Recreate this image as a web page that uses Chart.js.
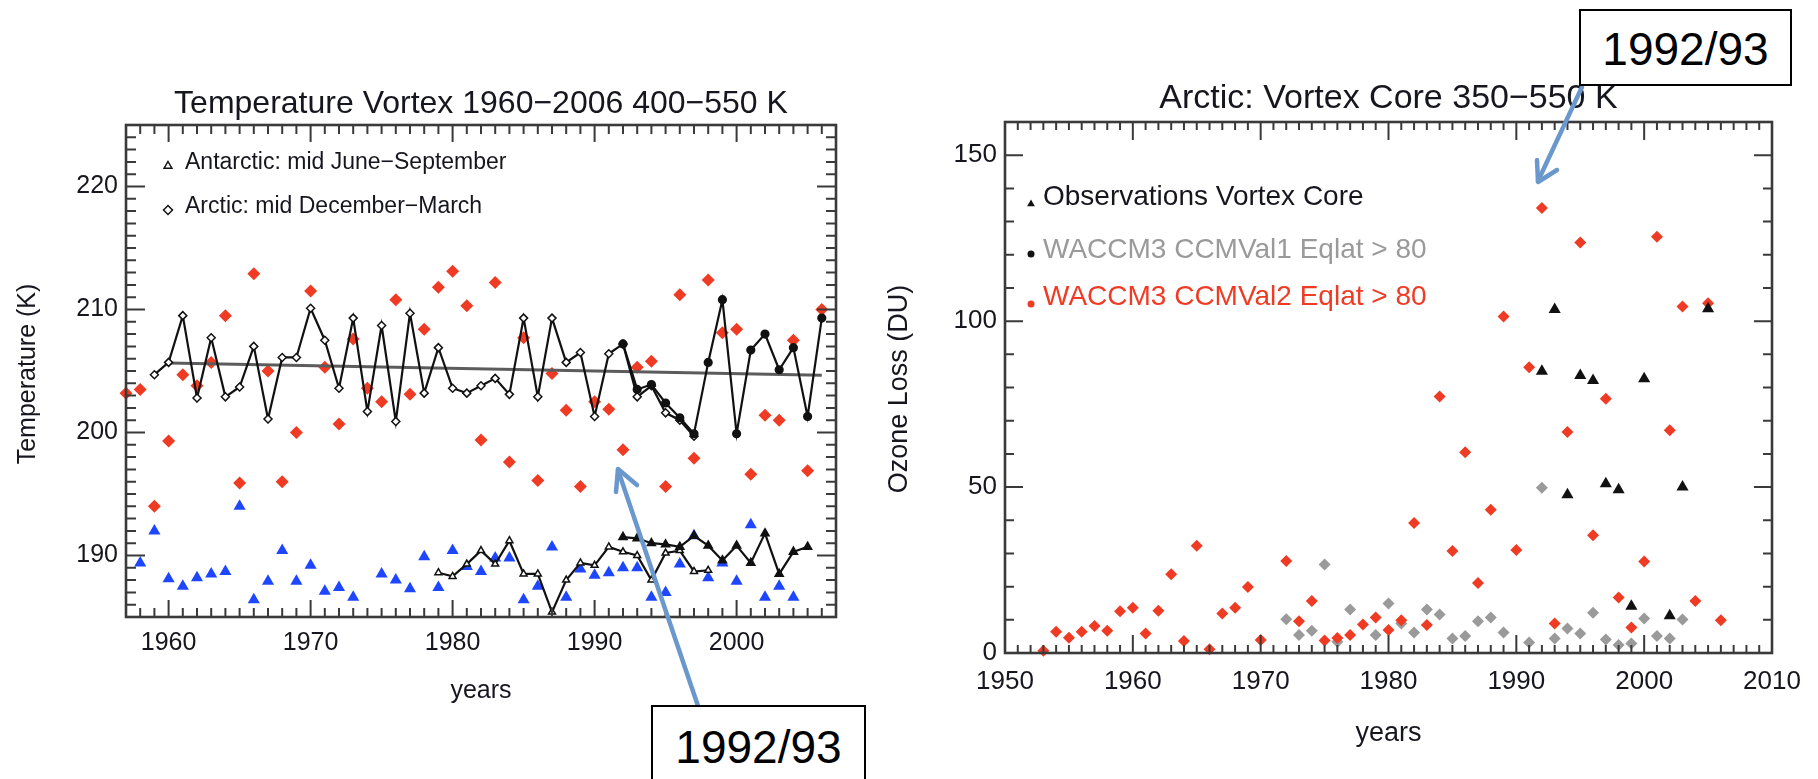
<!DOCTYPE html>
<html lang="en">
<head>
<meta charset="utf-8">
<title>Vortex temperature and Arctic ozone loss</title>
<script src="https://cdn.jsdelivr.net/npm/chart.js@4.4.1/dist/chart.umd.min.js"></script>
<style>
  html, body { margin: 0; padding: 0; background: #fff; }
  body { position: relative; width: 1818px; height: 779px; overflow: hidden; }
  canvas { position: absolute; top: 0; }
  #tempChart { left: 0; }
  #ozoneChart { left: 880px; }
  #arrows { position: absolute; left: 0; top: 0; }
  .callout {
    position: absolute; box-sizing: border-box; border: 2px solid #000; background: #fff;
    font-family: 'Liberation Sans', Arial, sans-serif; font-size: 46px; line-height: 1;
    text-align: center; color: #000;
  }
</style>
</head>
<body>
<canvas id="tempChart" width="880" height="779"></canvas>
<canvas id="ozoneChart" width="938" height="779"></canvas>
<svg id="arrows" width="1818" height="779">
  <g stroke="#6a98cd" stroke-width="4.5" fill="none" stroke-linecap="round" stroke-linejoin="round">
    <line x1="698" y1="706" x2="618" y2="470"/>
    <polyline points="616,492 618,469 637,485"/>
    <line x1="1582" y1="87" x2="1538" y2="181"/>
    <polyline points="1537,160 1538,182 1557,170"/>
  </g>
</svg>
<div class="callout" style="left:651px;top:705px;width:215px;height:90px;padding-top:17px;">1992/93</div>
<div class="callout" style="left:1579px;top:9px;width:213px;height:77px;padding-top:15px;">1992/93</div>

<script>
// ---- left panel: vortex temperatures (K) ----
const tempXTicks = [1960, 1970, 1980, 1990, 2000];
const tempYTicks = [190, 200, 210, 220];

const redYears = [1957, 1958, 1959, 1960, 1961, 1962, 1963, 1964, 1965, 1966,
  1967, 1968, 1969, 1970, 1971, 1972, 1973, 1974, 1975, 1976,
  1977, 1978, 1979, 1980, 1981, 1982, 1983, 1984, 1985, 1986,
  1987, 1988, 1989, 1990, 1991, 1992, 1993, 1994, 1995, 1996,
  1997, 1998, 1999, 2000, 2001, 2002, 2003, 2004, 2005, 2006];
const redTemps = [203.2, 203.5, 194.0, 199.3, 204.7, 203.8, 205.7, 209.5, 195.9, 212.9,
  205.0, 196.0, 200.0, 211.5, 205.3, 200.7, 207.6, 203.6, 202.5, 210.8,
  203.1, 208.4, 211.8, 213.1, 210.3, 199.4, 212.2, 197.6, 207.7, 196.1,
  204.8, 201.8, 195.6, 202.5, 201.9, 198.6, 205.3, 205.8, 195.6, 211.2,
  197.9, 212.4, 208.1, 208.4, 196.6, 201.4, 201.0, 207.5, 196.9, 210.0];

const blueYears = [1958, 1959, 1960, 1961, 1962, 1963, 1964, 1965, 1966, 1967,
  1968, 1969, 1970, 1971, 1972, 1973, 1975, 1976, 1977, 1978,
  1979, 1980, 1981, 1982, 1983, 1984, 1985, 1986, 1987, 1988,
  1989, 1990, 1991, 1992, 1993, 1994, 1995, 1996, 1997, 1998,
  1999, 2000, 2001, 2002, 2003, 2004];
const blueTemps = [189.4, 192.0, 188.1, 187.5, 188.2, 188.5, 188.7, 194.0, 186.4, 187.9,
  190.4, 187.9, 189.2, 187.1, 187.4, 186.6, 188.5, 188.0, 187.3, 189.9,
  187.4, 190.4, 189.1, 188.7, 189.8, 189.8, 186.4, 187.5, 190.7, 186.6,
  188.9, 188.4, 188.6, 189.0, 189.0, 186.6, 187.0, 189.3, 191.6, 188.2,
  189.4, 187.9, 192.5, 186.6, 187.5, 186.6];

const arcticYears = [1959, 1960, 1961, 1962, 1963, 1964, 1965, 1966, 1967, 1968,
  1969, 1970, 1971, 1972, 1973, 1974, 1975, 1976, 1977, 1978,
  1979, 1980, 1981, 1982, 1983, 1984, 1985, 1986, 1987, 1988,
  1989, 1990, 1991, 1992, 1993, 1994, 1995, 1996, 1997];
const arcticTemps = [204.7, 205.7, 209.5, 202.8, 207.7, 202.9, 203.7, 207.0, 201.1, 206.1,
  206.1, 210.1, 207.5, 203.6, 209.3, 201.7, 208.7, 200.9, 209.7, 203.2,
  206.9, 203.6, 203.2, 203.8, 204.4, 203.1, 209.3, 202.9, 209.3, 205.7,
  206.5, 201.3, 206.4, 207.2, 202.9, 203.8, 201.6, 201.0, 199.7];

const arcticNewYears = [1992, 1993, 1994, 1995, 1996, 1997, 1998, 1999, 2000, 2001,
  2002, 2003, 2004, 2005, 2006];
const arcticNewTemps = [207.2, 203.5, 203.9, 202.4, 201.2, 199.9, 205.7, 210.8, 199.9, 206.7,
  208.0, 205.1, 206.9, 201.3, 209.3];

const antarcticYears = [1979, 1980, 1981, 1982, 1983, 1984, 1985, 1986, 1987, 1988,
  1989, 1990, 1991, 1992, 1993, 1994, 1995, 1996, 1997, 1998];
const antarcticTemps = [188.6, 188.3, 189.3, 190.4, 189.3, 191.2, 188.5, 188.5, 185.4, 188.0,
  189.4, 189.2, 190.7, 190.3, 190.0, 188.0, 190.2, 190.4, 188.7, 188.8];

const antarcticNewYears = [1992, 1993, 1994, 1995, 1996, 1997, 1998, 1999, 2000, 2001,
  2002, 2003, 2004, 2005];
const antarcticNewTemps = [191.5, 191.4, 191.0, 190.9, 190.7, 191.6, 190.8, 189.6, 190.8, 189.4,
  191.8, 188.5, 190.3, 190.7];

const trendYears = [1960, 2006];
const trendTemps = [205.65, 204.65];

// ---- right panel: Arctic vortex core ozone loss (DU) ----
const ozoneXTicks = [1950, 1960, 1970, 1980, 1990, 2000, 2010];
const ozoneYTicks = [0, 50, 100, 150];

const obsYears = [1992, 1993, 1994, 1995, 1996, 1997, 1998, 1999, 2000, 2002, 2003, 2005];
const obsLoss = [84.9, 103.5, 47.7, 83.6, 82.1, 51.0, 49.2, 14.1, 82.6, 11.2, 50.0, 103.7];

const ccmval1Years = [1972, 1973, 1974, 1975, 1976, 1977, 1979, 1980, 1981, 1982,
  1983, 1984, 1985, 1986, 1987, 1988, 1989, 1991, 1992, 1993,
  1994, 1995, 1996, 1997, 1998, 1999, 2000, 2001, 2002, 2003];
const ccmval1Loss = [10.2, 5.4, 6.7, 26.7, 3.4, 13.1, 5.4, 14.9, 8.9, 6.2,
  13.1, 11.6, 4.4, 5.1, 9.6, 10.7, 6.2, 3.2, 49.8, 4.4,
  7.4, 5.9, 12.1, 4.1, 2.4, 2.9, 10.4, 5.1, 4.4, 10.1];

const ccmval2Years = [1953, 1954, 1955, 1956, 1957, 1958, 1959, 1960, 1961, 1962,
  1963, 1964, 1965, 1966, 1967, 1968, 1969, 1970, 1972, 1973,
  1974, 1975, 1976, 1977, 1978, 1979, 1980, 1981, 1982, 1983,
  1984, 1985, 1986, 1987, 1988, 1989, 1990, 1991, 1992, 1993,
  1994, 1995, 1996, 1997, 1998, 1999, 2000, 2001, 2002, 2003,
  2004, 2005, 2006];
const ccmval2Loss = [0.7, 6.4, 4.6, 6.4, 8.1, 6.7, 12.6, 13.6, 5.9, 12.7,
  23.7, 3.6, 32.3, 1.1, 11.9, 13.6, 19.9, 3.9, 27.7, 9.6,
  15.7, 3.8, 4.5, 5.4, 8.6, 10.7, 6.9, 9.9, 39.2, 8.4,
  77.3, 30.7, 60.5, 21.1, 43.2, 101.4, 31.0, 86.1, 134.1, 8.9,
  66.6, 123.7, 35.5, 76.6, 16.7, 7.7, 27.6, 125.4, 67.1, 104.4,
  15.7, 105.4, 9.9];

const RED = '#f03b24';
const BLUE = '#1e46ff';
const GREY = '#9a9a9a';
const INK = '#16161e';
const FONT = "'Liberation Sans', Arial, Helvetica, sans-serif";

Chart.defaults.font.family = FONT;
Chart.defaults.color = INK;

const pts = (xs, ys) => xs.map((x, i) => ({ x: x, y: ys[i] }));

function marker(ctx, style, x, y, r, fill, stroke) {
  ctx.beginPath();
  if (style === 'triangle') {
    ctx.moveTo(x, y - r);
    ctx.lineTo(x + r * 0.866, y + r * 0.5);
    ctx.lineTo(x - r * 0.866, y + r * 0.5);
    ctx.closePath();
  } else if (style === 'rectRot') {
    ctx.moveTo(x, y - r);
    ctx.lineTo(x + r, y);
    ctx.lineTo(x, y + r);
    ctx.lineTo(x - r, y);
    ctx.closePath();
  } else {
    ctx.arc(x, y, r, 0, Math.PI * 2);
  }
  if (fill) { ctx.fillStyle = fill; ctx.fill(); }
  if (stroke) { ctx.strokeStyle = stroke; ctx.lineWidth = 1.5; ctx.stroke(); }
}

// IDL-style box: frame, inward ticks on all four sides, titles and legend
const boxFrame = {
  id: 'boxFrame',
  afterDatasetsDraw(chart, args, o) {
    const { ctx, chartArea: a, scales: { x, y } } = chart;
    ctx.save();
    ctx.strokeStyle = '#3a3a3a';
    ctx.lineWidth = 2;
    ctx.beginPath();
    for (let v = Math.ceil(x.min); v <= x.max; v += o.xStep) {
      const px = x.getPixelForValue(v);
      const len = o.xMajor.includes(v) ? o.xMajorLen : o.xMinorLen;
      ctx.moveTo(px, a.bottom); ctx.lineTo(px, a.bottom - len);
      ctx.moveTo(px, a.top); ctx.lineTo(px, a.top + len);
    }
    for (let v = Math.ceil(y.min / o.yStep) * o.yStep; v <= y.max; v += o.yStep) {
      const py = y.getPixelForValue(v);
      const len = o.yMajor.includes(v) ? o.yMajorLen : o.yMinorLen;
      ctx.moveTo(a.left, py); ctx.lineTo(a.left + len, py);
      ctx.moveTo(a.right, py); ctx.lineTo(a.right - len, py);
    }
    ctx.stroke();
    ctx.lineWidth = 2.6;
    ctx.strokeRect(a.left, a.top, a.right - a.left, a.bottom - a.top);
    ctx.restore();
  },
  afterDraw(chart, args, o) {
    const { ctx, chartArea: a } = chart;
    const cx = (a.left + a.right) / 2;
    ctx.save();
    ctx.fillStyle = INK;
    ctx.textAlign = 'center';
    ctx.textBaseline = 'alphabetic';
    ctx.font = o.titleSize + 'px ' + FONT;
    ctx.fillText(o.title, cx, o.titleBase);
    ctx.font = o.xTitleSize + 'px ' + FONT;
    ctx.fillText(o.xTitle, cx, o.xTitleBase);
    ctx.save();
    ctx.translate(o.yTitleX, o.yTitleY);
    ctx.rotate(-Math.PI / 2);
    ctx.textBaseline = 'middle';
    ctx.font = o.yTitleSize + 'px ' + FONT;
    ctx.fillText(o.yTitle, 0, 0);
    ctx.restore();
    ctx.textAlign = 'left';
    ctx.font = o.legendSize + 'px ' + FONT;
    o.legend.forEach(item => {
      marker(ctx, item.style, o.legendMarkX, item.markY, item.r, item.fill, item.stroke);
      ctx.fillStyle = item.color;
      ctx.fillText(item.label, o.legendTextX, item.base);
    });
    ctx.restore();
  }
};

function axis(min, max, ticks, opts) {
  return Object.assign({
    type: 'linear', min: min, max: max,
    grid: { display: false, drawTicks: false },
    border: { display: false },
    afterBuildTicks: s => { s.ticks = ticks.map(v => ({ value: v })); }
  }, opts);
}

new Chart(document.getElementById('tempChart'), {
  type: 'scatter',
  data: {
    datasets: [
      { type: 'line', data: pts(arcticNewYears, arcticNewTemps), borderColor: '#111', borderWidth: 2.2,
        pointStyle: 'circle', pointRadius: 3.5, pointBackgroundColor: '#111', pointBorderColor: '#111', tension: 0 },
      { type: 'line', data: pts(arcticYears, arcticTemps), borderColor: '#111', borderWidth: 2.2,
        pointStyle: 'rectRot', pointRadius: 4, pointBackgroundColor: '#fff', pointBorderColor: '#111', pointBorderWidth: 1.5, tension: 0 },
      { type: 'line', data: pts(antarcticNewYears, antarcticNewTemps), borderColor: '#111', borderWidth: 2.2,
        pointStyle: 'triangle', pointRadius: 4, pointBackgroundColor: '#111', pointBorderColor: '#111', tension: 0 },
      { type: 'line', data: pts(antarcticYears, antarcticTemps), borderColor: '#111', borderWidth: 2.2,
        pointStyle: 'triangle', pointRadius: 4, pointBackgroundColor: '#fff', pointBorderColor: '#111', pointBorderWidth: 1.5, tension: 0 },
      { type: 'line', data: pts(trendYears, trendTemps), borderColor: '#5c5c5c', borderWidth: 3, pointRadius: 0 },
      { data: pts(blueYears, blueTemps), pointStyle: 'triangle', pointRadius: 7,
        backgroundColor: BLUE, borderColor: BLUE, borderWidth: 0 },
      { data: pts(redYears, redTemps), pointStyle: 'rectRot', pointRadius: 6.5,
        backgroundColor: RED, borderColor: RED, borderWidth: 0, clip: false }
    ]
  },
  options: {
    responsive: false,
    animation: false,
    devicePixelRatio: 1,
    layout: { padding: { left: 0, top: 125, right: 44, bottom: 102 } },
    plugins: {
      legend: { display: false },
      tooltip: { enabled: false },
      boxFrame: {
        xMajor: tempXTicks, yMajor: tempYTicks, xStep: 1, yStep: 1,
        xMajorLen: 17, xMinorLen: 9, yMajorLen: 19, yMinorLen: 10,
        title: 'Temperature Vortex 1960\u22122006 400\u2212550 K', titleSize: 32, titleBase: 113,
        xTitle: 'years', xTitleSize: 25, xTitleBase: 698,
        yTitle: 'Temperature (K)', yTitleSize: 25, yTitleX: 28, yTitleY: 374,
        legendSize: 23, legendMarkX: 168, legendTextX: 185,
        legend: [
          { label: 'Antarctic: mid June\u2212September', style: 'triangle', r: 4.5, fill: '#fff', stroke: '#111', markY: 166, base: 169, color: INK },
          { label: 'Arctic: mid December\u2212March', style: 'rectRot', r: 4.5, fill: '#fff', stroke: '#111', markY: 210, base: 213, color: INK }
        ]
      }
    },
    scales: {
      x: axis(1957, 2007, tempXTicks, {
        afterFit: s => { s.height = 60; },
        ticks: { font: { size: 25 }, padding: 11, callback: v => String(v) }
      }),
      y: axis(185, 225, tempYTicks, {
        afterFit: s => { s.width = 126; },
        ticks: { font: { size: 25 }, padding: 8, callback: v => String(v) }
      })
    }
  },
  plugins: [boxFrame]
});

new Chart(document.getElementById('ozoneChart'), {
  type: 'scatter',
  data: {
    datasets: [
      { data: pts(obsYears, obsLoss), pointStyle: 'triangle', pointRadius: 7,
        backgroundColor: '#111', borderColor: '#111', borderWidth: 0 },
      { data: pts(ccmval2Years, ccmval2Loss), pointStyle: 'rectRot', pointRadius: 6,
        backgroundColor: RED, borderColor: RED, borderWidth: 0, clip: false },
      { data: pts(ccmval1Years, ccmval1Loss), pointStyle: 'rectRot', pointRadius: 6,
        backgroundColor: GREY, borderColor: GREY, borderWidth: 0 }
    ]
  },
  options: {
    responsive: false,
    animation: false,
    devicePixelRatio: 1,
    layout: { padding: { left: 0, top: 122, right: 46, bottom: 66 } },
    plugins: {
      legend: { display: false },
      tooltip: { enabled: false },
      boxFrame: {
        xMajor: ozoneXTicks, yMajor: ozoneYTicks, xStep: 1, yStep: 10,
        xMajorLen: 18, xMinorLen: 8, yMajorLen: 18, yMinorLen: 9,
        title: 'Arctic: Vortex Core 350\u2212550 K', titleSize: 34, titleBase: 108,
        xTitle: 'years', xTitleSize: 27, xTitleBase: 741,
        yTitle: 'Ozone Loss (DU)', yTitleSize: 27, yTitleX: 20, yTitleY: 389,
        legendSize: 28, legendMarkX: 151, legendTextX: 163,
        legend: [
          { label: 'Observations Vortex Core', style: 'triangle', r: 4.5, fill: '#111', markY: 204, base: 205, color: INK },
          { label: 'WACCM3 CCMVal1 Eqlat > 80', style: 'circle', r: 3.5, fill: '#111', markY: 254, base: 258, color: GREY },
          { label: 'WACCM3 CCMVal2 Eqlat > 80', style: 'circle', r: 3.5, fill: RED, markY: 304, base: 305, color: RED }
        ]
      }
    },
    scales: {
      x: axis(1950, 2010, ozoneXTicks, {
        afterFit: s => { s.height = 60; },
        ticks: { font: { size: 26 }, padding: 13, callback: v => String(v) }
      }),
      y: axis(0, 160, ozoneYTicks, {
        afterFit: s => { s.width = 125; },
        ticks: { font: { size: 26 }, padding: 8, callback: v => String(v) }
      })
    }
  },
  plugins: [boxFrame]
});
</script>
</body>
</html>
